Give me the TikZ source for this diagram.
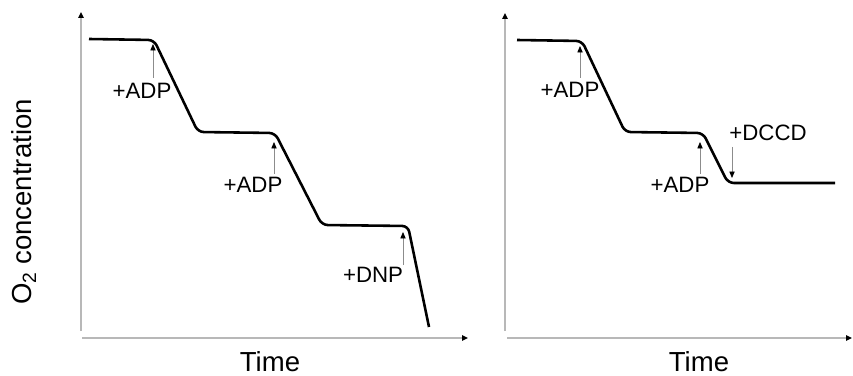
\documentclass[tikz,border=0pt]{standalone}
\usepackage{fontspec}
\setmainfont{Liberation Sans}
\usetikzlibrary{arrows.meta}

\tikzset{
  axis/.style={draw=black!28, line width=1.5pt, -{Triangle[length=5pt,width=4.5pt,black]}},
  trace/.style={line width=2.2pt, rounded corners=5pt, line join=round},
  addarrow/.style={draw=black!45, line width=0.7pt, -{Triangle[length=5.5pt,width=4.5pt,black]}},
  addlabel/.style={font=\fontsize{19}{19}\selectfont, inner sep=0pt},
  axislabel/.style={font=\fontsize{23.5}{23.5}\selectfont, inner sep=0pt}
}

\begin{document}
\begin{tikzpicture}[x=0.03cm, y=-0.03cm]
  \useasboundingbox (0,0) rectangle (853,376);
  % O2 axis label
  \node[axislabel, rotate=90] (ylab) at (24,202) {O\textsubscript{2} concentration};

  % Left panel: ADP, ADP, DNP
  \draw[axis] (81,331) -- (81,12);
  \draw[axis] (82,338) -- (468,338);
  \draw[trace] (89,39) -- (154,40) -- (198,132) -- (275,133) -- (322,225) -- (408,226) -- (429,327);
  \node[axislabel] (timeL) at (270,362) {Time};

  \node[addlabel] (adpLa) at (142,91) {+ADP};
  \coordinate (adpLaFoot) at (153,78);
  \coordinate (adpLaTip) at (153,44);
  \draw[addarrow] (adpLaFoot) -- (adpLaTip);

  \node[addlabel] (adpLb) at (253,185) {+ADP};
  \coordinate (adpLbFoot) at (274,174);
  \coordinate (adpLbTip) at (274,142);
  \draw[addarrow] (adpLbFoot) -- (adpLbTip);

  \node[addlabel] (dnp) at (373,275) {+DNP};
  \coordinate (dnpFoot) at (403,265);
  \coordinate (dnpTip) at (403,232);
  \draw[addarrow] (dnpFoot) -- (dnpTip);

  % Right panel: ADP, ADP, DCCD
  \draw[axis] (505,331) -- (505,13);
  \draw[axis] (507,338) -- (852,338);
  \draw[trace] (517,40) -- (582,41) -- (625,132) -- (703,133) -- (728,183) -- (835,183);
  \node[axislabel] (timeR) at (699,362) {Time};

  \node[addlabel] (adpRa) at (570,90) {+ADP};
  \coordinate (adpRaFoot) at (580,78);
  \coordinate (adpRaTip) at (580,46);
  \draw[addarrow] (adpRaFoot) -- (adpRaTip);

  \node[addlabel] (adpRb) at (680,185) {+ADP};
  \coordinate (adpRbFoot) at (700,174);
  \coordinate (adpRbTip) at (700,142);
  \draw[addarrow] (adpRbFoot) -- (adpRbTip);

  \node[addlabel] (dccd) at (768,133) {+DCCD};
  \coordinate (dccdFoot) at (732,147);
  \coordinate (dccdTip) at (732,178);
  \draw[addarrow] (dccdFoot) -- (dccdTip);
\end{tikzpicture}
\end{document}
